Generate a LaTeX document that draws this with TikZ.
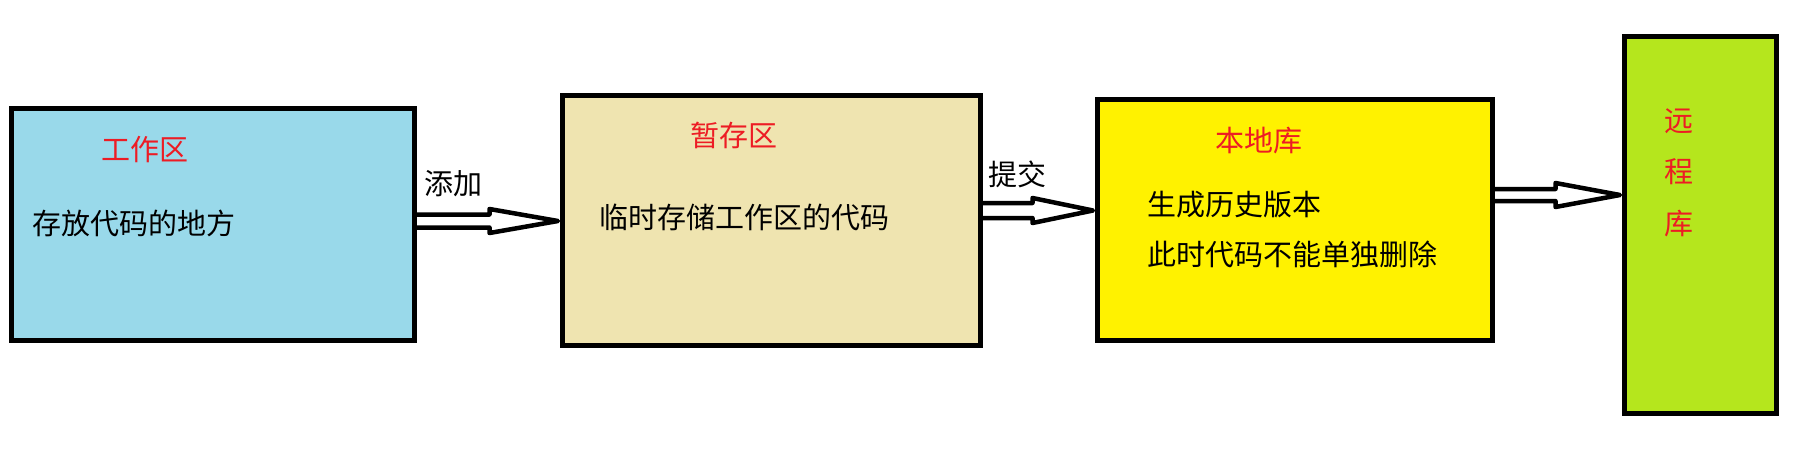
\documentclass[tikz,border=0pt]{standalone}
\usepackage{fontspec}
\setmainfont{Noto Sans CJK SC}
\usetikzlibrary{calc}
\definecolor{pred}{HTML}{ED1C24}
\definecolor{fblue}{HTML}{99D9EA}
\definecolor{ftan}{HTML}{EFE4B0}
\definecolor{fyellow}{HTML}{FFF200}
\definecolor{flime}{HTML}{B5E61D}
\tikzset{
  stage/.style={draw=black, line width=5pt, rectangle, inner sep=0pt},
  title/.style={text=pred, font=\fontsize{29}{29}\selectfont, inner sep=0pt},
  body/.style={text=black, font=\fontsize{29}{29}\selectfont, inner sep=0pt},
  harrow/.style={draw=black, fill=white, line width=4.5pt, line join=round},
}
\newcommand{\hollowarrow}[6]{% #1 from, #2 to, #3 y, #4 half shaft, #5 half head, #6 head length
  \coordinate (ha-y) at (0,#3);
  \coordinate (ha-s) at (#1.east |- ha-y);
  \coordinate (ha-t) at ($(#2.west |- ha-y)+(-2,0)$);
  \draw[harrow] ($(ha-s)+(0,-#4)$) -- ($(ha-t)+(-#6,-#4)$) -- ($(ha-t)+(-#6,-#5)$)
    -- (ha-t) -- ($(ha-t)+(-#6,#5)$) -- ($(ha-t)+(-#6,#4)$) -- ($(ha-s)+(0,#4)$);
}
\begin{document}
\begin{tikzpicture}[x=1pt,y=-1pt]
\useasboundingbox[fill=white] (0,0) rectangle (1820,451);
% stages
\node[stage, fill=fblue,   minimum width=403.5pt, minimum height=232pt] (work)   at (212.75,224.5) {};
\node[stage, fill=ftan,    minimum width=418pt,   minimum height=250pt] (stage)  at (771.5,220.5) {};
\node[stage, fill=fyellow, minimum width=395pt,   minimum height=241pt] (local)  at (1295,220) {};
\node[stage, fill=flime,   minimum width=152pt,   minimum height=377pt] (remote) at (1700.5,225) {};
% texts
\node[title] (t1) at (145,150) {工作区};
\node[body]  (b1) at (134,223.5) {存放代码的地方};
\node[title] (t2) at (733.5,135.5) {暂存区};
\node[body]  (b2) at (744.5,217) {临时存储工作区的代码};
\node[title] (t3) at (1258.5,140.5) {本地库};
\node[body]  (b3a) at (1234.5,204.5) {生成历史版本};
\node[body]  (b3b) at (1292.5,254.5) {此时代码不能单独删除};
\node[title] (t4a) at (1679,121.5) {远};
\node[title] (t4b) at (1679,171.5) {程};
\node[title] (t4c) at (1679,223.5) {库};
% arrows
\hollowarrow{work}{stage}{221}{6.5}{12}{68.5}
\hollowarrow{stage}{local}{210.5}{7.5}{12.5}{60.5}
\hollowarrow{local}{remote}{195}{6}{12}{64.5}
\node[body] (l1) at (453.5,183.5) {添加};
\node[body] (l2) at (1017.5,174.5) {提交};
\end{tikzpicture}
\end{document}
